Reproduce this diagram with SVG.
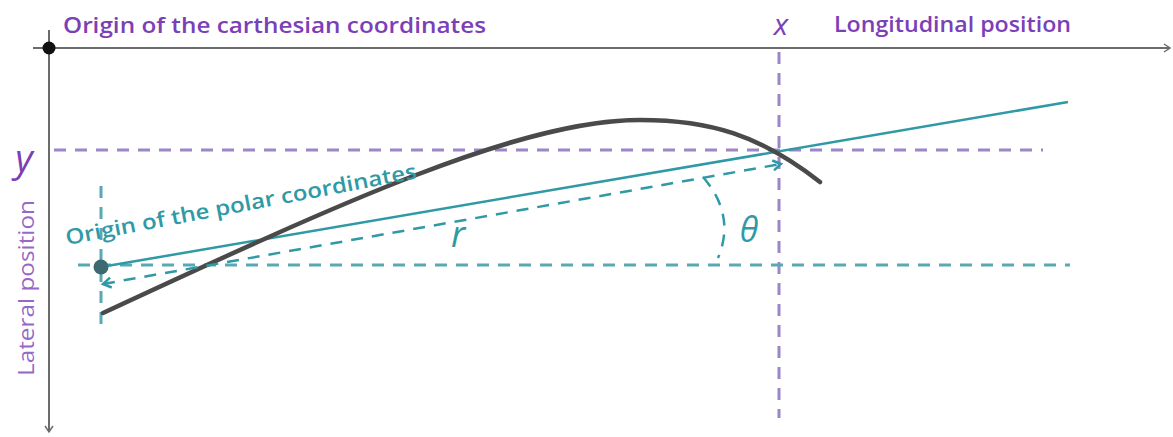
<svg xmlns="http://www.w3.org/2000/svg" width="1173" height="437" viewBox="0 0 1173 437">
<style>
.axis{stroke:#6b6b6b;stroke-width:2;fill:none}
.pdash{stroke:#9d86c6;stroke-width:3;stroke-dasharray:12,9;fill:none}
.tdash{stroke:#58a9b4;stroke-width:3;stroke-dasharray:12,9;fill:none}
.tarrow{stroke:#2f9aa6;stroke-width:2.5;stroke-dasharray:12,9;fill:none}
.purple{fill:#7b3fb8;font-family:"Open Sans","DejaVu Sans",sans-serif}
.teal{fill:#2f9aa6;font-family:"Open Sans","DejaVu Sans",sans-serif}
</style>
<defs>
<marker id="ax" markerWidth="12" markerHeight="12" refX="10" refY="6" orient="auto" markerUnits="userSpaceOnUse">
<polyline points="4,2 10,6 4,10" fill="none" stroke="#6b6b6b" stroke-width="1.5"/>
</marker>
<marker id="ta" markerWidth="16" markerHeight="16" refX="12" refY="8" orient="auto-start-reverse" markerUnits="userSpaceOnUse">
<polyline points="4,3 12,8 4,13" fill="none" stroke="#2f9aa6" stroke-width="2.5"/>
</marker>
</defs>
<rect width="1173" height="437" fill="#ffffff"/>
<g id="connectors">
<line class="axis" x1="33" y1="48" x2="1170" y2="48" marker-end="url(#ax)"/>
<line class="axis" x1="49" y1="30" x2="49" y2="432" marker-end="url(#ax)"/>
<line class="pdash" x1="54" y1="150" x2="1043" y2="150"/>
<line class="pdash" x1="779" y1="52" x2="779" y2="418"/>
<line class="tdash" x1="78" y1="265" x2="1070" y2="265"/>
<line class="tdash" x1="101" y1="186" x2="101" y2="324"/>
<line x1="101" y1="267" x2="1068" y2="102" stroke="#2f9aa6" stroke-width="2.5"/>
<path d="M103,313 C340,203 520,120 640,120 C710,120 760,135 820,182" stroke="#4a4a4a" stroke-width="4.5" fill="none" stroke-linecap="round"/>
<line class="tarrow" x1="103" y1="284" x2="781" y2="164" marker-start="url(#ta)" marker-end="url(#ta)"/>
<path class="tarrow" d="M703,177 Q736,215 718,258"/>
</g>
<g id="origin-cartesian">
<circle cx="49" cy="48" r="6.5" fill="#111"/>
<text class="purple" x="63" y="33" font-size="21" font-weight="600" textLength="423" lengthAdjust="spacingAndGlyphs">Origin of the carthesian coordinates</text>
</g>
<g id="origin-polar">
<circle cx="101" cy="267" r="7.5" fill="#3d6a70"/>
<text class="teal" transform="translate(67,245) rotate(-10.8)" font-size="21" font-weight="600" textLength="357" lengthAdjust="spacingAndGlyphs">Origin of the polar coordinates</text>
</g>
<g id="labels">
<text class="purple" x="781" y="35" font-size="30" font-style="italic" text-anchor="middle">x</text>
<text class="purple" x="834" y="32" font-size="21" font-weight="600" textLength="237" lengthAdjust="spacingAndGlyphs">Longitudinal position</text>
<text class="purple" x="24" y="172" font-size="38" font-style="italic" text-anchor="middle">y</text>
<text class="purple" transform="translate(34,376) rotate(-90)" font-size="22" textLength="176" lengthAdjust="spacingAndGlyphs" fill-opacity="0.8">Lateral position</text>
<text class="teal" x="458" y="247" font-size="36" font-style="italic" text-anchor="middle">r</text>
<text class="teal" x="749" y="242" font-size="34" font-style="italic" text-anchor="middle">θ</text>
</g>
</svg>
